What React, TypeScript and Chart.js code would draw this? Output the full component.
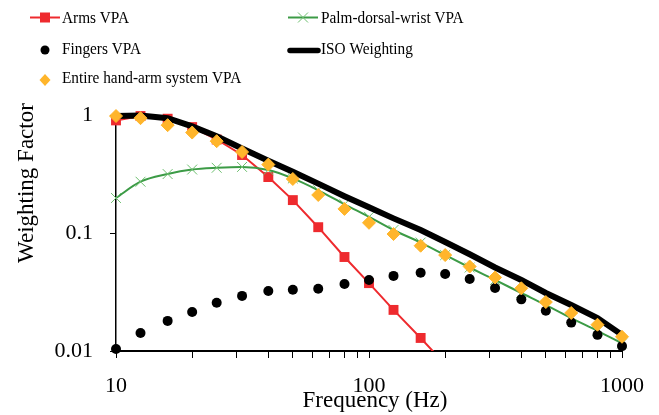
import React, { useEffect, useRef } from 'react';
import { Chart, registerables } from 'chart.js';

Chart.register(...registerables);

// ---------- data ----------
const frequencies = [10, 12.5, 16, 20, 25, 31.5, 40, 50, 63, 80, 100, 125, 160, 200, 250, 315, 400, 500, 630, 800, 1000];
const armsFrequencies = [10, 12.5, 16, 20, 25, 31.5, 40, 50, 63, 80, 100, 125, 160, 200];
const armsVPA = [0.9, 0.98, 0.93, 0.79, 0.62, 0.458, 0.298, 0.19, 0.112, 0.0626, 0.0376, 0.0223, 0.0129, 0.0077];
const palmVPA = [0.198, 0.272, 0.316, 0.345, 0.357, 0.363, 0.342, 0.29, 0.23, 0.175, 0.137, 0.106, 0.083, 0.065, 0.051, 0.04, 0.031, 0.0245, 0.019, 0.0148, 0.0116];
const fingersVPA = [0.0104, 0.0142, 0.018, 0.0214, 0.0256, 0.0293, 0.0323, 0.033, 0.0337, 0.037, 0.04, 0.0433, 0.046, 0.045, 0.0408, 0.0342, 0.0274, 0.0219, 0.0174, 0.0137, 0.011];
const entireVPA = [0.98, 0.94, 0.82, 0.71, 0.6, 0.486, 0.38, 0.287, 0.21, 0.16, 0.122, 0.098, 0.078, 0.065, 0.052, 0.042, 0.034, 0.026, 0.021, 0.0167, 0.0132];
const isoWeighting = [0.98, 0.99, 0.94, 0.8, 0.66, 0.52, 0.41, 0.33, 0.262, 0.205, 0.165, 0.133, 0.106, 0.084, 0.066, 0.051, 0.04, 0.031, 0.0245, 0.019, 0.0137];

const xTickValues = [10, 20, 30, 40, 50, 60, 70, 80, 90, 100, 200, 300, 400, 500, 600, 700, 800, 900, 1000];
const xTickLabels = [10, 100, 1000];
const yTickValues = [0.01, 0.1, 1];
const yTickLabels = ['0.01', '0.1', '1'];

const xTitle = 'Frequency (Hz)';
const yTitle = 'Weighting Factor';
const seriesNames = ['Arms VPA', 'Palm-dorsal-wrist VPA', 'Fingers VPA', 'ISO Weighting', 'Entire hand-arm system VPA'];

// ---------- style ----------
const FONT = "'Liberation Serif', 'Times New Roman', serif";
const RED = '#EE2A2E';
const GREEN = '#3C9B46';
const GREEN_MARK = '#6DBF6F';
const ORANGE = '#FFB52B';
const BLACK = '#000000';

const pts = (xs: number[], ys: number[]) => ys.map((y, i) => ({ x: xs[i], y }));

const overlayPlugin = {
  id: 'overlay',
  afterDraw(chart: any) {
    const ctx = chart.ctx as CanvasRenderingContext2D;
    ctx.save();
    // axis titles
    ctx.fillStyle = BLACK;
    ctx.font = `23px ${FONT}`;
    ctx.textAlign = 'center';
    ctx.textBaseline = 'middle';
    ctx.fillText(xTitle, 375, 401);
    ctx.save();
    ctx.translate(27, 183);
    ctx.rotate(-Math.PI / 2);
    ctx.fillText(yTitle, 0, 0);
    ctx.restore();

    // legend
    const text = (s: string, x: number, y: number) => {
      ctx.save();
      ctx.font = `17px ${FONT}`;
      ctx.fillStyle = BLACK;
      ctx.textAlign = 'left';
      ctx.textBaseline = 'middle';
      ctx.translate(x, y);
      ctx.scale(0.9, 1);
      ctx.fillText(s, 0, 0);
      ctx.restore();
    };
    // Arms
    ctx.strokeStyle = RED;
    ctx.lineWidth = 2;
    ctx.beginPath();
    ctx.moveTo(30, 17.5);
    ctx.lineTo(60, 17.5);
    ctx.stroke();
    ctx.fillStyle = RED;
    ctx.fillRect(40, 12.5, 10, 10);
    text(seriesNames[0], 62, 18.5);
    // Palm
    ctx.strokeStyle = GREEN;
    ctx.lineWidth = 2;
    ctx.beginPath();
    ctx.moveTo(288, 17.5);
    ctx.lineTo(318, 17.5);
    ctx.stroke();
    ctx.strokeStyle = GREEN_MARK;
    ctx.lineWidth = 1;
    ctx.beginPath();
    ctx.moveTo(298, 12.5);
    ctx.lineTo(308, 22.5);
    ctx.moveTo(308, 12.5);
    ctx.lineTo(298, 22.5);
    ctx.stroke();
    text(seriesNames[1], 321, 18.5);
    // Fingers
    ctx.fillStyle = BLACK;
    ctx.beginPath();
    ctx.arc(45, 50, 4.5, 0, Math.PI * 2);
    ctx.fill();
    text(seriesNames[2], 62, 49.5);
    // ISO
    ctx.strokeStyle = BLACK;
    ctx.lineWidth = 5.5;
    ctx.lineCap = 'round';
    ctx.beginPath();
    ctx.moveTo(290, 50.5);
    ctx.lineTo(318, 50.5);
    ctx.stroke();
    ctx.lineCap = 'butt';
    text(seriesNames[3], 321, 49.5);
    // Entire
    ctx.fillStyle = ORANGE;
    ctx.beginPath();
    ctx.moveTo(45, 74);
    ctx.lineTo(50.5, 80);
    ctx.lineTo(45, 86);
    ctx.lineTo(39.5, 80);
    ctx.closePath();
    ctx.fill();
    text(seriesNames[4], 62, 79);
    ctx.restore();
  },
};

export default function App() {
  const canvasRef = useRef<HTMLCanvasElement | null>(null);

  useEffect(() => {
    if (!canvasRef.current) return;
    const chart = new Chart(canvasRef.current, {
      type: 'line',
      data: {
        datasets: [
          {
            label: seriesNames[4],
            data: pts(frequencies, entireVPA),
            showLine: false,
            pointStyle: 'rectRot',
            pointRadius: 6.5,
            backgroundColor: ORANGE,
            borderColor: ORANGE,
            borderWidth: 1,
            clip: false,
            order: 0,
          },
          {
            label: seriesNames[2],
            data: pts(frequencies, fingersVPA),
            showLine: false,
            pointStyle: 'circle',
            pointRadius: 5,
            backgroundColor: BLACK,
            borderColor: BLACK,
            borderWidth: 0,
            clip: false,
            order: 1,
          },
          {
            label: seriesNames[3],
            data: pts(frequencies, isoWeighting),
            borderColor: BLACK,
            backgroundColor: BLACK,
            borderWidth: 6,
            pointRadius: 0,
            tension: 0,
            clip: false,
            order: 2,
          },
          {
            label: seriesNames[1],
            data: pts(frequencies, palmVPA),
            borderColor: GREEN,
            backgroundColor: GREEN_MARK,
            borderWidth: 2,
            pointStyle: 'crossRot',
            pointRadius: 7,
            pointBorderColor: GREEN_MARK,
            pointBorderWidth: 1,
            cubicInterpolationMode: 'monotone',
            clip: false,
            order: 3,
          },
          {
            label: seriesNames[0],
            data: pts(armsFrequencies, armsVPA),
            borderColor: RED,
            backgroundColor: RED,
            borderWidth: 2,
            pointStyle: 'rect',
            pointRadius: 7,
            pointBorderWidth: 0,
            tension: 0,
            clip: { left: 20, top: 20, right: 20, bottom: 0 } as any,
            order: 4,
          },
        ],
      },
      options: {
        responsive: false,
        animation: false,
        devicePixelRatio: 1,
        layout: { padding: { left: 0, right: 37, top: 115, bottom: 0 } },
        plugins: {
          legend: { display: false },
          tooltip: { enabled: false },
          title: { display: false },
        },
        scales: {
          x: {
            type: 'logarithmic',
            min: 10,
            max: 1000,
            afterFit: (scale: any) => {
              scale.height = 64;
            },
            afterBuildTicks: (scale: any) => {
              scale.ticks = xTickValues.map((v) => ({ value: v }));
            },
            ticks: {
              autoSkip: false,
              maxRotation: 0,
              padding: 15,
              color: BLACK,
              font: { family: FONT, size: 22 },
              callback: (v: any) => (xTickLabels.includes(Number(v)) ? String(v) : ''),
            },
            grid: {
              display: true,
              drawOnChartArea: false,
              drawTicks: true,
              tickLength: 7,
              color: BLACK,
              lineWidth: 1,
            },
            border: { display: true, color: BLACK, width: 2 },
          },
          y: {
            type: 'logarithmic',
            min: 0.01,
            max: 1,
            afterFit: (scale: any) => {
              scale.width = 116;
            },
            afterBuildTicks: (scale: any) => {
              scale.ticks = yTickValues.map((v) => ({ value: v }));
            },
            ticks: {
              autoSkip: false,
              padding: 17,
              color: BLACK,
              font: { family: FONT, size: 22 },
              callback: (v: any) => {
                const i = yTickValues.indexOf(Number(v));
                return i >= 0 ? yTickLabels[i] : '';
              },
            },
            grid: {
              display: true,
              drawOnChartArea: false,
              drawTicks: true,
              tickLength: 6,
              color: BLACK,
              lineWidth: 1,
            },
            border: { display: true, color: BLACK, width: 1.5 },
          },
        },
      },
      plugins: [overlayPlugin],
    } as any);
    return () => chart.destroy();
  }, []);

  return (
    <div style={{ position: 'fixed', left: 0, top: 0, width: 659, height: 415, background: '#ffffff' }}>
      <canvas ref={canvasRef} width={659} height={415} style={{ display: 'block' }} />
    </div>
  );
}
